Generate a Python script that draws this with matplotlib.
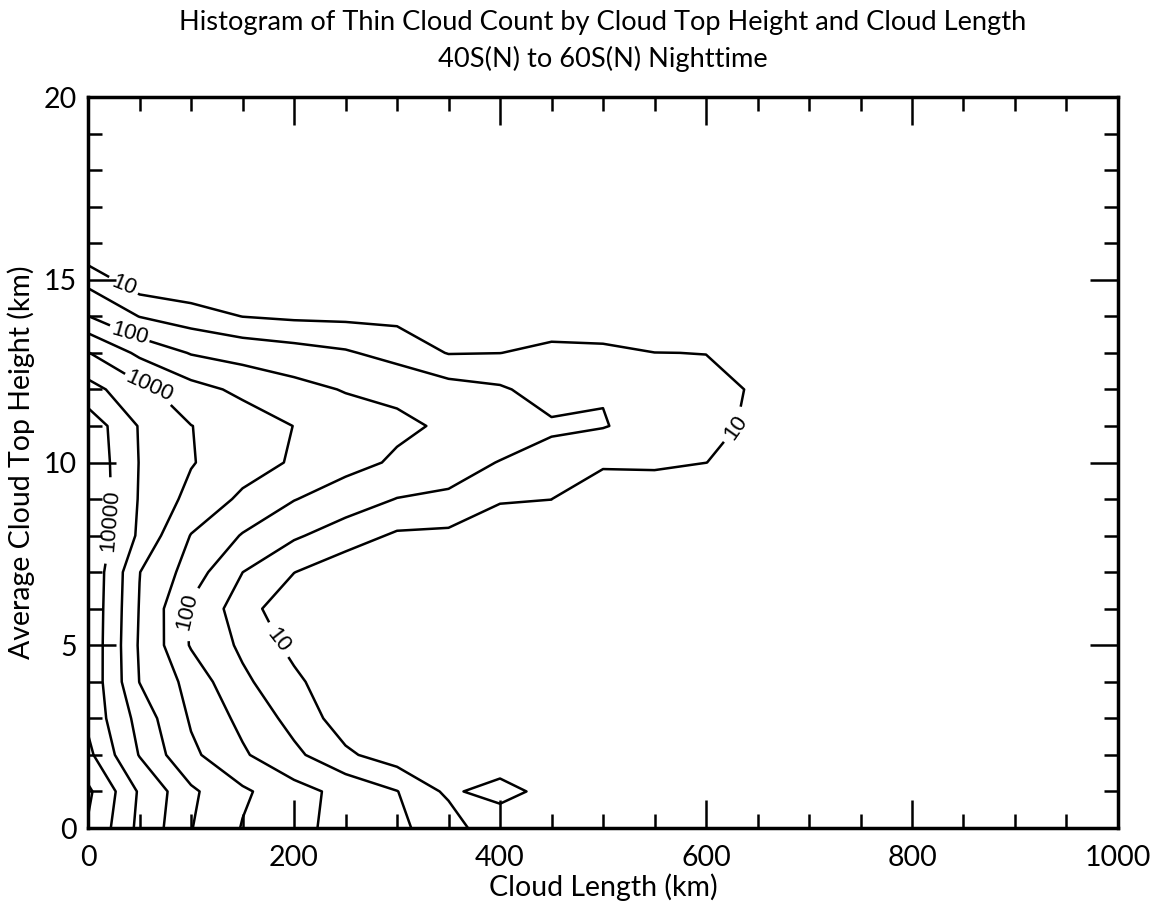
import numpy as np
import matplotlib.pyplot as plt

# histogram grid: cloud length bins (km) and cloud top height bins (km)
cloud_length = [0, 50, 100, 150, 200, 250, 300, 350, 400, 450, 500, 550, 600, 650, 700]
top_height = [0, 1, 2, 3, 4, 5, 6, 7, 8, 9, 10, 11, 12, 13, 14, 15, 16, 17, 18, 19, 20]

# thin cloud counts, one list per height bin (columns follow cloud_length)
n_h00 = [89100, 7590, 1047, 282, 138, 68, 35, 20, 3.2, 3, 2, 1, 0, 0, 0]
n_h01 = [125900, 8710, 1230, 355, 155, 69, 31, 7.9, 17.8, 5.8, 3, 2, 1, 0, 0]
n_h02 = [39800, 2818, 380, 117, 39, 12, 5.8, 3, 3.5, 2.5, 2, 1, 0, 0, 0]
n_h03 = [24000, 2000, 263, 75, 20, 5.9, 4, 2, 2, 1, 1, 0, 0, 0, 0]
n_h04 = [25100, 977, 204, 38, 12.6, 4.5, 3, 2, 1, 1, 0, 0, 0, 0, 0]
n_h05 = [26300, 881, 91, 24, 7.4, 4, 3, 2, 1, 1, 0, 0, 0, 0, 0]
n_h06 = [26900, 944, 83, 16.6, 4.4, 3, 3, 2, 1, 1, 0, 0, 0, 0, 0]
n_h07 = [28200, 1023, 182, 30.2, 10.2, 5, 4, 3, 2, 1, 1, 0, 0, 0, 0]
n_h08 = [28200, 2455, 286, 93, 35, 17, 8.5, 7.8, 6.3, 5, 2.5, 2, 1, 0, 0]
n_h09 = [28200, 2754, 724, 240, 105, 54, 29, 25, 10.7, 10.1, 2.8, 3.2, 2.5, 1.6, 0]
n_h10 = [25100, 2884, 1072, 513, 263, 148, 85, 48, 28.6, 20, 13.2, 13.5, 10.1, 6.3, 2.5]
n_h11 = [21900, 2754, 1023, 550, 295, 190, 124, 85, 62, 35.5, 31.6, 20.7, 13.2, 8.3, 3.2]
n_h12 = [4467, 1413, 447, 234, 145, 93, 79, 48, 35, 17.8, 28.4, 15.8, 12.3, 9.3, 4]
n_h13 = [1047, 234, 93, 66, 48, 34.3, 19.5, 9.5, 9.9, 12.6, 12.6, 10.1, 9.9, 5, 2]
n_h14 = [102, 29, 17, 9.8, 8.3, 8.0, 7.8, 5, 5, 5.9, 5, 4, 3, 2, 1]
n_h15 = [20.8, 4.9, 3.9, 3, 2.5, 2, 2, 1, 1, 1, 1, 1, 0, 0, 0]
n_h16 = [3.3, 2, 1, 1, 1, 0, 0, 0, 0, 0, 0, 0, 0, 0, 0]
n_h17 = [1, 1, 0, 0, 0, 0, 0, 0, 0, 0, 0, 0, 0, 0, 0]
n_h18 = [0, 0, 0, 0, 0, 0, 0, 0, 0, 0, 0, 0, 0, 0, 0]
n_h19 = [0, 0, 0, 0, 0, 0, 0, 0, 0, 0, 0, 0, 0, 0, 0]
n_h20 = [0, 0, 0, 0, 0, 0, 0, 0, 0, 0, 0, 0, 0, 0, 0]

labelled_levels = [10, 100, 1000, 10000]
other_levels = [30, 300, 3000, 30000, 100000]

counts = np.array([n_h00, n_h01, n_h02, n_h03, n_h04, n_h05, n_h06, n_h07,
                   n_h08, n_h09, n_h10, n_h11, n_h12, n_h13, n_h14, n_h15,
                   n_h16, n_h17, n_h18, n_h19, n_h20], dtype=float)
log_counts = np.log10(np.maximum(counts, 0.1))
X, Y = np.meshgrid(cloud_length, top_height)

text_font = 'Lato'
num_font = 'Liberation Sans'

fig = plt.figure(figsize=(11.63, 9.11), dpi=100)
ax = fig.add_axes([0.0757, 0.0911, 0.8856, 0.8024])

ax.contour(X, Y, log_counts, levels=np.log10(other_levels),
           colors='black', linewidths=1.8)
cs = ax.contour(X, Y, log_counts, levels=np.log10(labelled_levels),
                colors='black', linewidths=1.8)
lab = ax.clabel(cs, inline=True, inline_spacing=8, fontsize=16,
                fmt=lambda v: '%d' % round(10 ** v),
                manual=[(35, 14.9), (628, 11.0), (180, 5.0), (41, 13.6),
                        (92, 5.9), (57, 11.8), (25, 8.4)])
for t in lab:
    t.set_fontfamily(num_font)

ax.set_xlim(0, 1000)
ax.set_ylim(0, 20)
ax.set_xticks([0, 200, 400, 600, 800, 1000])
ax.set_xticks(np.arange(0, 1001, 50), minor=True)
ax.set_yticks([0, 5, 10, 15, 20])
ax.set_yticks(np.arange(0, 21, 1), minor=True)
ax.tick_params(which='both', direction='in', top=True, right=True, width=1.8)
ax.tick_params(which='major', length=20, labelsize=20.5)
ax.tick_params(axis='x', which='major', pad=12)
ax.tick_params(axis='y', which='major', pad=8)
ax.tick_params(which='minor', length=10)
for lbl in ax.get_xticklabels() + ax.get_yticklabels():
    lbl.set_fontfamily(text_font)
for sp in ax.spines.values():
    sp.set_linewidth(2.5)

ax.set_xlabel('Cloud Length (km)', fontsize=20.5, family=text_font, labelpad=2)
ax.set_ylabel('Average Cloud Top Height (km)', fontsize=20.5, family=text_font, labelpad=6)

fig.text(0.5185, 0.975, 'Histogram of Thin Cloud Count by Cloud Top Height and Cloud Length',
         ha='center', va='center', fontsize=19.6, family=text_font)
fig.text(0.5185, 0.935, '40S(N) to 60S(N) Nighttime',
         ha='center', va='center', fontsize=19.6, family=text_font)

fig.savefig('out.png', dpi=100)
